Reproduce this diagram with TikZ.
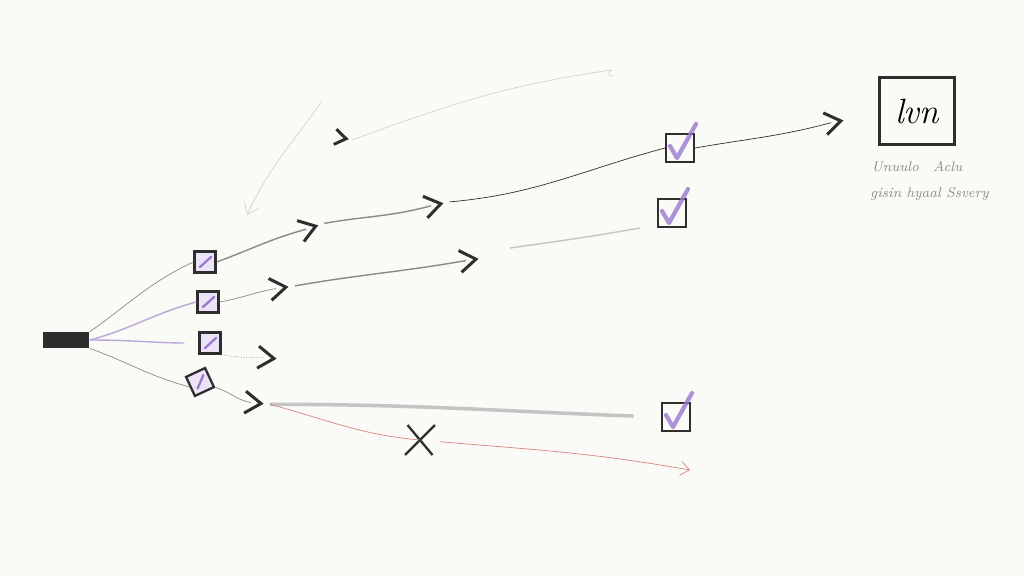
\documentclass[tikz,border=0pt]{standalone}
\usetikzlibrary{positioning,arrows.meta}
\definecolor{paper}{HTML}{FAFAF7}
\definecolor{pen}{HTML}{2E2E2E}
\definecolor{lilac}{HTML}{9C78CF}
\definecolor{lilacfill}{HTML}{ECE4F6}
\definecolor{lilacline}{HTML}{BBA6D9}
\definecolor{pencil}{HTML}{8A8A8A}
\definecolor{smudge}{HTML}{C4C4C4}
\definecolor{faint}{HTML}{D2D2D2}
\definecolor{redpen}{HTML}{D5857C}
\tikzset{
  chev/.pic={\draw[pen,line width=1.7pt,line join=miter] (-0.2cm,0.22cm) -- (0.12cm,0cm) -- (-0.2cm,-0.22cm);
    \coordinate (-in) at (-0.08cm,0cm); \coordinate (-out) at (0.3cm,0cm);},
  checkbox/.pic={\node[draw=pen,line width=1.2pt,minimum size=0.56cm,inner sep=0] (-b) {};
    \draw[lilac,line width=2.4pt,line cap=round,line join=round,opacity=0.8] (-0.2cm,0.04cm) -- (-0.06cm,-0.2cm) -- (0.32cm,0.48cm);},
  minibox/.pic={\node[draw=pen,line width=1.3pt,fill=lilacfill,minimum size=0.42cm,inner sep=0] (-b) {};
    \draw[lilac,line width=1.3pt,line cap=round] (-0.1cm,-0.1cm) -- (0.12cm,0.1cm);},
  cross/.pic={\coordinate (-c) at (0,0);
    \draw[pen,line width=1.3pt] (-0.3cm,-0.3cm) -- (0.3cm,0.3cm) (-0.25cm,0.3cm) -- (0.25cm,-0.3cm);},
  note/.style={font=\fontsize{8}{9}\selectfont\itshape,text=pencil,inner sep=1pt},
}
\begin{document}
\begin{tikzpicture}[x=0.02cm,y=0.02cm]
\fill[paper] (0,0) rectangle (1024,576);
\useasboundingbox (0,0) rectangle (1024,576);

\node[fill=pen,minimum width=0.94cm,minimum height=0.32cm,inner sep=0] (src) at (66,236) {};
\pic (b1) at (205,314) {minibox};
\pic (b2) at (208,274) {minibox};
\pic (b3) at (210,233) {minibox};
\pic[rotate=25,transform shape] (b4) at (200,194) {minibox};

\pic[rotate=18] (c1) at (310,348) {chev};
\pic[rotate=12] (c2) at (435,371) {chev};
\pic[rotate=10] (c3) at (835,454) {chev};
\pic[rotate=8] (c4) at (280,288) {chev};
\pic[rotate=8] (c5) at (470,316) {chev};
\pic[rotate=-5] (c6) at (268,218) {chev};
\pic[rotate=-5] (c7) at (255,173) {chev};
\pic[scale=0.7,rotate=-10] (c8) at (342,438) {chev};

\pic (k1) at (680,428) {checkbox};
\pic (k2) at (672,363) {checkbox};
\pic (k3) at (676,159) {checkbox};
\pic (xm) at (420,136) {cross};

\node[draw=pen,line width=1.2pt,minimum width=1.5cm,minimum height=1.34cm] (card) at (917,465) {\fontsize{20}{20}\selectfont\itshape lvn};
\node[note,below=0.28cm of card] (lab1) {Unuulo\quad Aclu};
\node[note,below=0.22cm of lab1,xshift=0.25cm] (lab2) {gisin hyaal Ssvery};

\coordinate (t1) at (510,328);
\coordinate (t2) at (640,348);
\coordinate (f2) at (612,506);
\coordinate (g1) at (322,475);
\coordinate (g2) at (247,361);
\coordinate (rend) at (690,106);

\draw[pencil] (src.north east) to[out=35,in=205] (b1-b.west);
\draw[lilacline,thick] (src.east) to[out=15,in=195] (b2-b.west);
\draw[lilacline,thick,shorten >=8pt] (src.east) to[out=0,in=180] (b3-b.west);
\draw[pencil] (src.south east) to[out=-20,in=165] (b4-b.west);

\draw[pencil,thick] (b1-b.east) to[out=20,in=195] (c1-in);
\draw[pencil,thick] (c1-out) to[out=10,in=195] (c2-in);
\draw[pen] (c2-out) to[out=5,in=195] (k1-b.west);
\draw[pen] (k1-b.east) to[out=10,in=195] (c3-in);

\draw[pencil] (b2-b.east) to[out=10,in=190] (c4-in);
\draw[pencil,thick] (c4-out) to[out=10,in=190] (c5-in);
\draw[smudge,thick] (t1) to[out=8,in=190] (t2);

\draw[pencil,densely dotted] (b3-b.south east) to[out=-10,in=180] (c6-in);
\draw[pencil] (b4-b.south east) to[out=-15,in=170] (c7-in);
\draw[smudge,line width=2pt,shorten >=0.55cm] (c7-out) to[out=0,in=178] (k3-b.west);
\draw[redpen] (c7-out) to[out=-15,in=175] (xm-c);
\draw[redpen,shorten <=0.4cm,-{Straight Barb[length=5pt,width=8pt]}] (xm-c) to[out=-5,in=170] (rend);

\draw[faint] (c8-out) to[out=20,in=188] (f2);
\draw[faint] (f2) arc[start angle=90,end angle=300,radius=3];
\draw[faint,-{Straight Barb[length=6pt,width=9pt]}] (g1) to[out=235,in=65] (g2);
\end{tikzpicture}
\end{document}
